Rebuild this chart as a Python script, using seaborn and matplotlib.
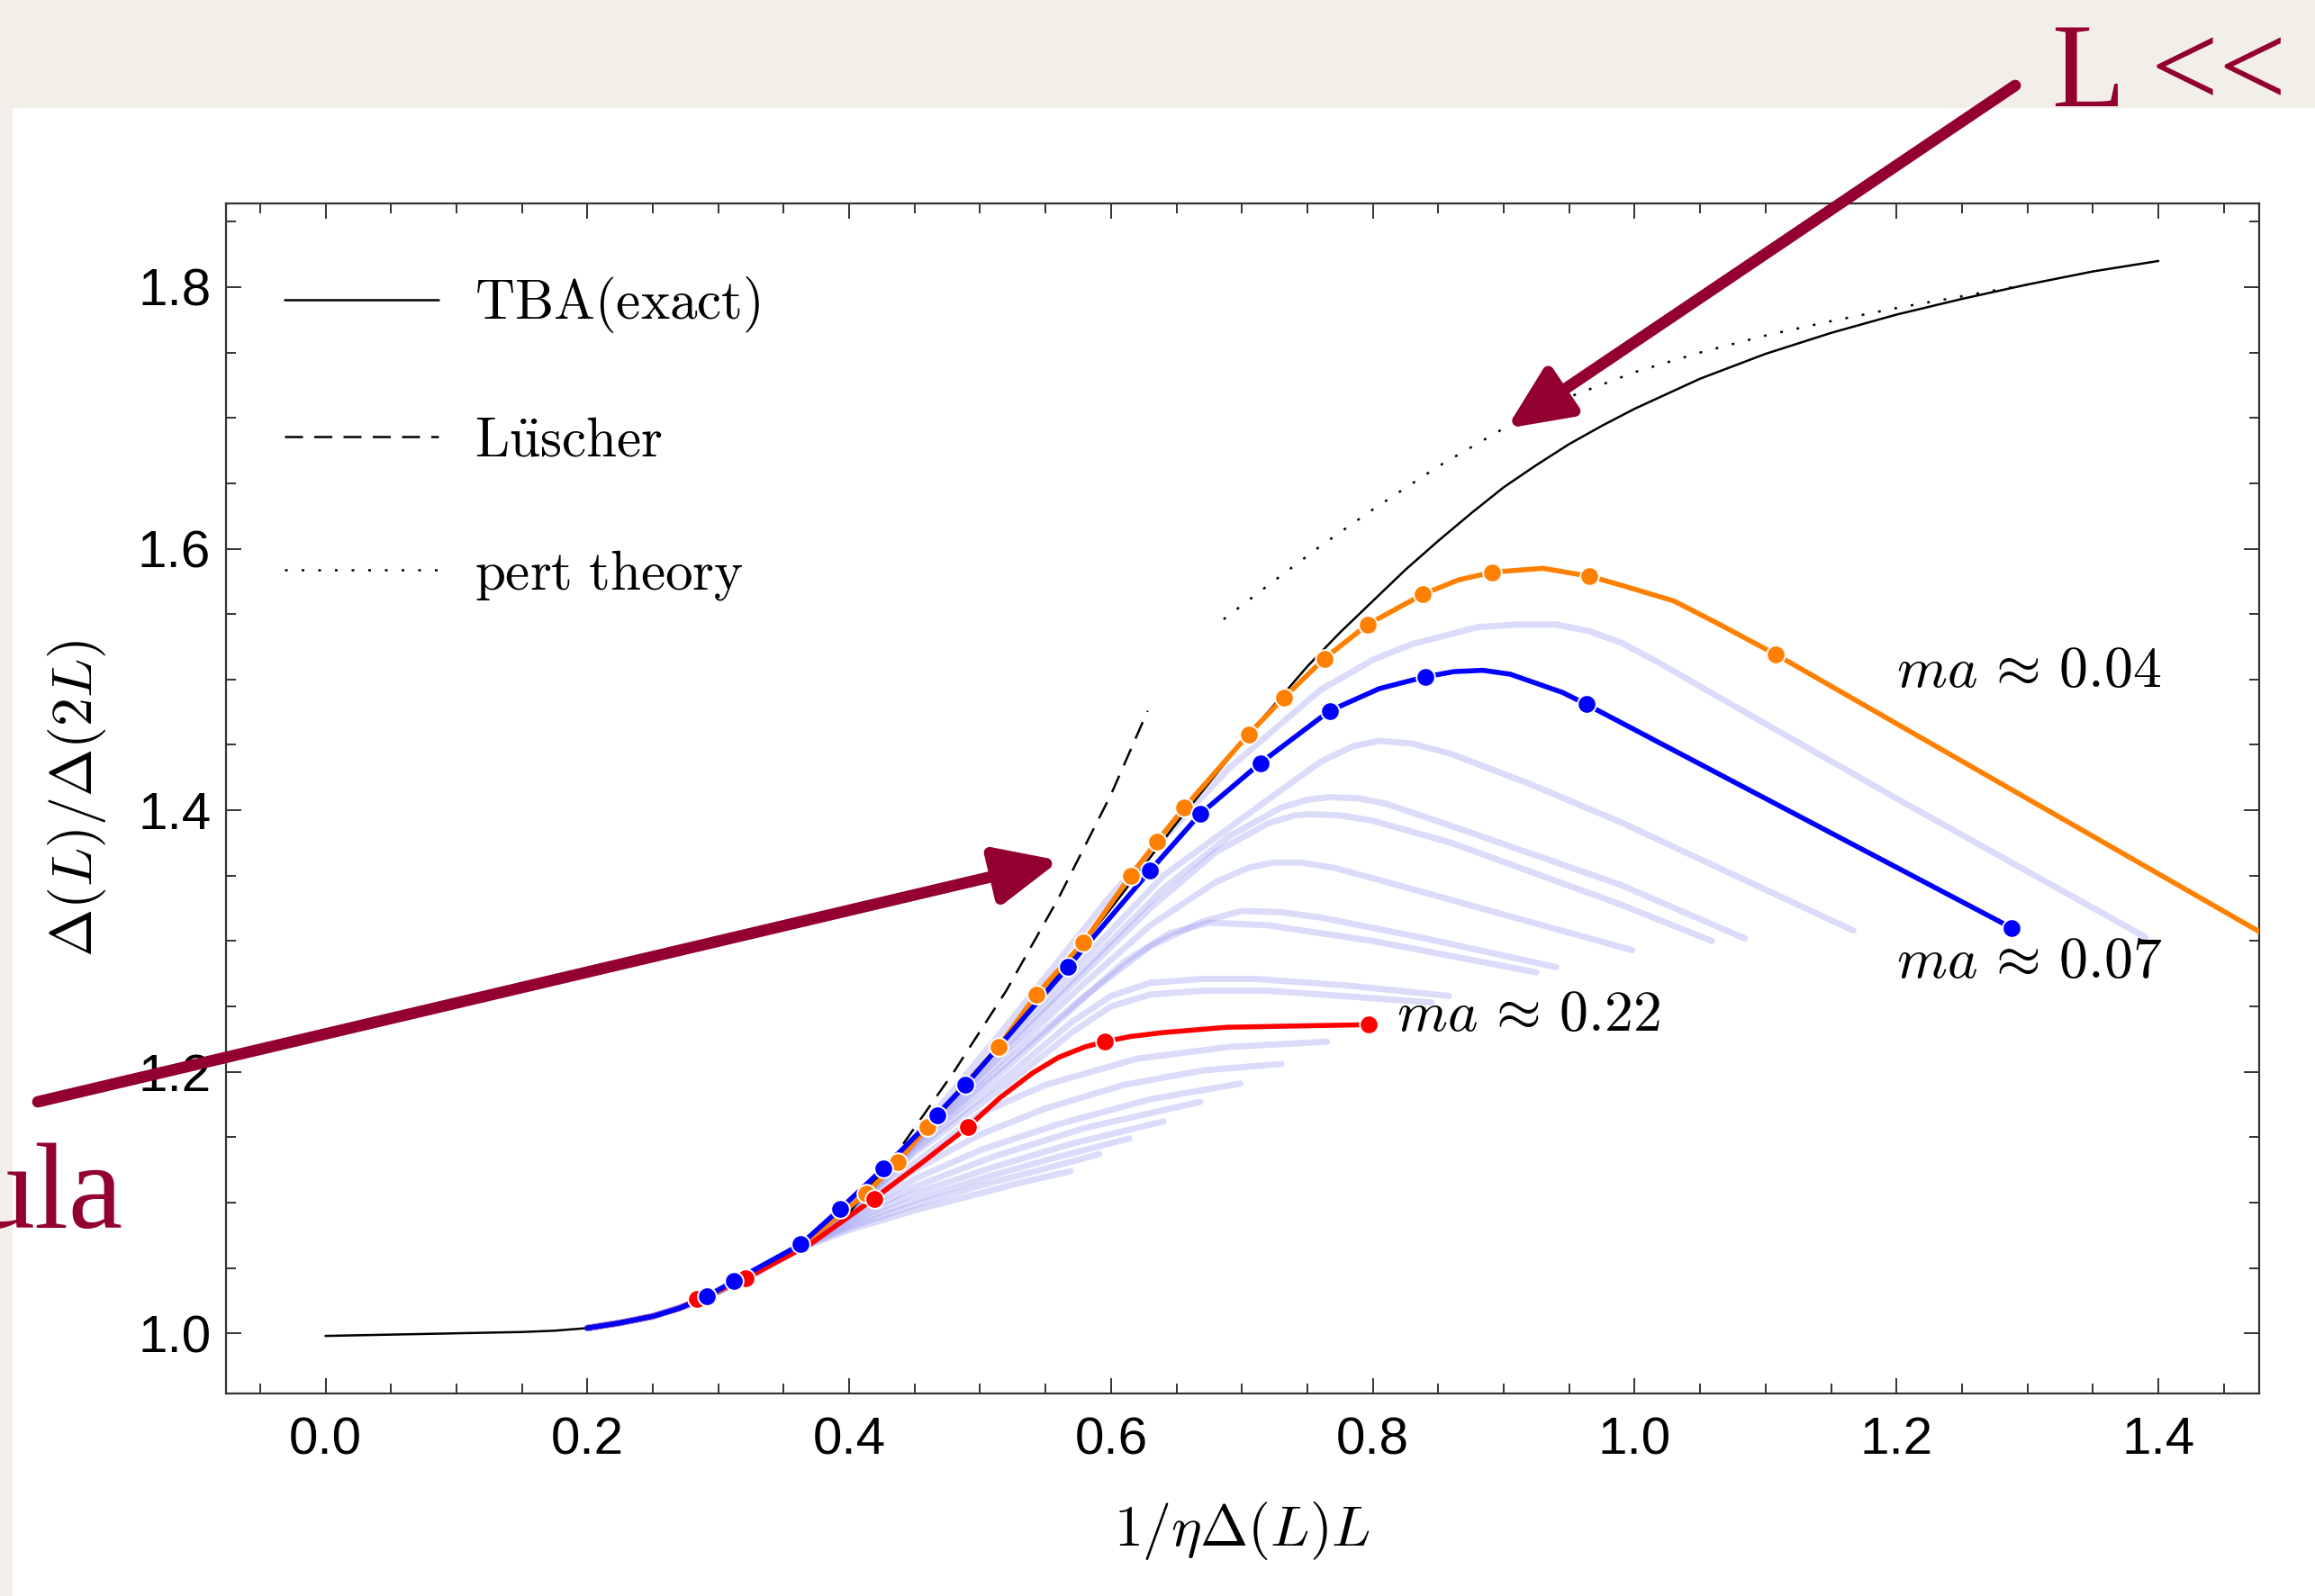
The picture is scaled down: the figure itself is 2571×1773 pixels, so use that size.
import numpy as np
import matplotlib
matplotlib.use("Agg")
import matplotlib.pyplot as plt
import seaborn as sns
from matplotlib.patches import Rectangle, FancyArrowPatch
from matplotlib.ticker import MultipleLocator

# ---------------- data ----------------
tba_x = [0.0, 0.05, 0.10, 0.15, 0.175, 0.20, 0.225, 0.25, 0.275, 0.30, 0.35, 0.40, 0.45, 0.50,
         0.55, 0.60, 0.65, 0.70, 0.75, 0.775, 0.80, 0.825, 0.85, 0.875, 0.90, 0.925, 0.95, 0.975,
         1.00, 1.05, 1.10, 1.15, 1.20, 1.25, 1.30, 1.35, 1.40]
tba_y = [0.998, 0.999, 1.000, 1.001, 1.002, 1.004, 1.008, 1.013, 1.021, 1.031, 1.058, 1.096, 1.146,
         1.203, 1.262, 1.325, 1.390, 1.452, 1.510, 1.536, 1.560, 1.584, 1.606, 1.627, 1.647,
         1.664, 1.680, 1.694, 1.707, 1.730, 1.749, 1.765, 1.779, 1.791, 1.802, 1.812, 1.820]

luscher_x = [0.40, 0.44, 0.48, 0.52, 0.56, 0.60, 0.628]
luscher_y = [1.092, 1.143, 1.200, 1.262, 1.333, 1.412, 1.476]

pert_x = [0.686, 0.72, 0.76, 0.80, 0.85, 0.90, 0.95, 1.00, 1.05, 1.10, 1.15, 1.20, 1.25, 1.30]
pert_y = [1.546, 1.572, 1.602, 1.630, 1.663, 1.692, 1.716, 1.735, 1.750, 1.763, 1.774, 1.784, 1.793, 1.802]

# ma ~ 0.04
orange_x = [0.20, 0.225, 0.25, 0.27, 0.30, 0.36, 0.413, 0.437, 0.460, 0.514, 0.543, 0.579, 0.615,
            0.635, 0.656, 0.705, 0.732, 0.763, 0.796, 0.838, 0.865, 0.891, 0.930, 0.965, 0.990,
            1.030, 1.065, 1.108, 1.500]
orange_y = [1.004, 1.008, 1.013, 1.019, 1.032, 1.064, 1.107, 1.131, 1.158, 1.219, 1.259, 1.299,
            1.350, 1.376, 1.402, 1.458, 1.486, 1.516, 1.542, 1.565, 1.576, 1.582, 1.585, 1.579,
            1.572, 1.560, 1.542, 1.519, 1.294]
orange_dot_x = [0.413, 0.437, 0.460, 0.514, 0.543, 0.579, 0.615, 0.635, 0.656, 0.705, 0.732, 0.763,
                0.796, 0.838, 0.891, 0.965, 1.108]
orange_dot_y = [1.107, 1.131, 1.158, 1.219, 1.259, 1.299, 1.350, 1.376, 1.402, 1.458, 1.486, 1.516,
                1.542, 1.565, 1.582, 1.579, 1.519]

# ma ~ 0.07
blue_x = [0.20, 0.225, 0.25, 0.27, 0.291, 0.312, 0.363, 0.393, 0.426, 0.467, 0.489, 0.567, 0.630,
          0.668, 0.714, 0.767, 0.805, 0.840, 0.862, 0.884, 0.905, 0.925, 0.945, 0.963, 1.288]
blue_y = [1.004, 1.008, 1.013, 1.019, 1.028, 1.040, 1.068, 1.095, 1.126, 1.167, 1.190, 1.280,
          1.354, 1.397, 1.436, 1.476, 1.493, 1.502, 1.506, 1.507, 1.504, 1.497, 1.490, 1.481, 1.310]
blue_dot_x = [0.291, 0.312, 0.363, 0.393, 0.426, 0.467, 0.489, 0.567, 0.630, 0.668, 0.714, 0.767,
              0.840, 0.963, 1.288]
blue_dot_y = [1.028, 1.040, 1.068, 1.095, 1.126, 1.167, 1.190, 1.280, 1.354, 1.397, 1.436, 1.476,
              1.502, 1.481, 1.310]

# ma ~ 0.22
red_x = [0.20, 0.225, 0.25, 0.27, 0.284, 0.321, 0.37, 0.419, 0.455, 0.491, 0.515, 0.540, 0.560,
         0.580, 0.595, 0.615, 0.64, 0.688, 0.74, 0.797]
red_y = [1.004, 1.008, 1.013, 1.019, 1.026, 1.042, 1.068, 1.103, 1.130, 1.158, 1.180, 1.199, 1.211,
         1.219, 1.223, 1.227, 1.230, 1.234, 1.235, 1.236]
red_dot_x = [0.284, 0.321, 0.419, 0.491, 0.595, 0.797]
red_dot_y = [1.026, 1.042, 1.103, 1.158, 1.223, 1.236]

# faint curves for the other lattice spacings (shared start, then their own branch)
faint_start_x = [0.20, 0.225, 0.25, 0.275, 0.30, 0.33, 0.36]
faint_start_y = [1.004, 1.008, 1.013, 1.021, 1.032, 1.047, 1.064]
faint_a_x = [0.40, 0.45, 0.52, 0.60, 0.69, 0.76, 0.80, 0.83, 0.88, 0.91, 0.94, 0.965, 0.99, 1.02,
             1.058, 1.20, 1.39]
faint_a_y = [1.095, 1.150, 1.235, 1.335, 1.432, 1.492, 1.515, 1.527, 1.540, 1.542, 1.542, 1.537,
             1.528, 1.512, 1.490, 1.409, 1.303]
faint_b_x = [0.40, 0.45, 0.52, 0.58, 0.64, 0.717, 0.76, 0.785, 0.805, 0.83, 0.86, 0.92, 0.989, 1.167]
faint_b_y = [1.094, 1.148, 1.225, 1.287, 1.350, 1.406, 1.437, 1.449, 1.453, 1.451, 1.443, 1.420,
             1.391, 1.308]
faint_c_x = [0.40, 0.45, 0.52, 0.58, 0.64, 0.69, 0.73, 0.75, 0.767, 0.79, 0.81, 0.86, 0.989, 1.084]
faint_c_y = [1.094, 1.147, 1.220, 1.280, 1.340, 1.380, 1.402, 1.408, 1.410, 1.409, 1.405, 1.388,
             1.343, 1.302]
faint_d_x = [0.40, 0.45, 0.52, 0.58, 0.63, 0.68, 0.72, 0.74, 0.752, 0.775, 0.80, 0.86, 0.989, 1.059]
faint_d_y = [1.094, 1.146, 1.217, 1.276, 1.325, 1.368, 1.390, 1.396, 1.397, 1.396, 1.392, 1.375,
             1.328, 1.300]
faint_e_x = [0.40, 0.45, 0.52, 0.58, 0.63, 0.68, 0.705, 0.724, 0.745, 0.77, 0.80, 0.998]
faint_e_y = [1.093, 1.145, 1.212, 1.268, 1.312, 1.345, 1.356, 1.360, 1.360, 1.356, 1.348, 1.293]
faint_f_x = [0.40, 0.45, 0.52, 0.58, 0.63, 0.67, 0.70, 0.73, 0.76, 0.84, 0.940]
faint_f_y = [1.093, 1.144, 1.207, 1.258, 1.296, 1.315, 1.323, 1.322, 1.318, 1.302, 1.280]
faint_g_x = [0.40, 0.45, 0.52, 0.57, 0.61, 0.645, 0.675, 0.72, 0.80, 0.925]
faint_g_y = [1.093, 1.143, 1.203, 1.248, 1.284, 1.306, 1.314, 1.312, 1.300, 1.276]
faint_h_x = [0.40, 0.45, 0.52, 0.57, 0.60, 0.63, 0.67, 0.71, 0.78, 0.858]
faint_h_y = [1.092, 1.140, 1.196, 1.238, 1.258, 1.268, 1.271, 1.271, 1.266, 1.258]
faint_i_x = [0.40, 0.45, 0.52, 0.57, 0.60, 0.63, 0.67, 0.72, 0.845]
faint_i_y = [1.092, 1.138, 1.190, 1.230, 1.250, 1.259, 1.262, 1.262, 1.253]
faint_j_x = [0.40, 0.45, 0.50, 0.55, 0.62, 0.69, 0.765]
faint_j_y = [1.093, 1.130, 1.168, 1.190, 1.210, 1.219, 1.223]
faint_k_x = [0.40, 0.45, 0.50, 0.55, 0.61, 0.67, 0.730]
faint_k_y = [1.091, 1.125, 1.152, 1.172, 1.190, 1.201, 1.206]
faint_l_x = [0.40, 0.45, 0.50, 0.56, 0.63, 0.699]
faint_l_y = [1.089, 1.118, 1.140, 1.160, 1.179, 1.191]
faint_m_x = [0.40, 0.45, 0.51, 0.58, 0.668]
faint_m_y = [1.087, 1.112, 1.135, 1.157, 1.177]
faint_n_x = [0.40, 0.45, 0.51, 0.57, 0.640]
faint_n_y = [1.085, 1.107, 1.127, 1.145, 1.162]
faint_o_x = [0.40, 0.45, 0.51, 0.56, 0.614]
faint_o_y = [1.083, 1.102, 1.121, 1.135, 1.149]
faint_p_x = [0.40, 0.45, 0.50, 0.55, 0.591]
faint_p_y = [1.081, 1.098, 1.113, 1.126, 1.137]
faint_q_x = [0.40, 0.45, 0.50, 0.53, 0.569]
faint_q_y = [1.079, 1.094, 1.107, 1.115, 1.124]

faint_curves = [(faint_a_x, faint_a_y), (faint_b_x, faint_b_y), (faint_c_x, faint_c_y),
                (faint_d_x, faint_d_y), (faint_e_x, faint_e_y), (faint_f_x, faint_f_y),
                (faint_g_x, faint_g_y), (faint_h_x, faint_h_y), (faint_i_x, faint_i_y),
                (faint_j_x, faint_j_y), (faint_k_x, faint_k_y), (faint_l_x, faint_l_y),
                (faint_m_x, faint_m_y), (faint_n_x, faint_n_y), (faint_o_x, faint_o_y),
                (faint_p_x, faint_p_y), (faint_q_x, faint_q_y)]

x_ticks = [0.0, 0.2, 0.4, 0.6, 0.8, 1.0, 1.2, 1.4]
y_ticks = [1.0, 1.2, 1.4, 1.6, 1.8]

# ---------------- style ----------------
sns.set_theme(style="ticks")
plt.rcParams['font.family'] = ['Liberation Sans', 'DejaVu Sans']
plt.rcParams['mathtext.fontset'] = 'cm'
plt.rcParams['text.color'] = 'black'
plt.rcParams['axes.labelcolor'] = 'black'

W, H, DPI = 2571, 1773, 200
MAROON = '#930030'
ORANGE = '#ff8000'
BLUE = '#0000ff'
RED = '#ff0000'
FAINT = (0.6, 0.6, 0.95)

fig = plt.figure(figsize=(W / DPI, H / DPI), dpi=DPI, facecolor='#f2efe9')
# white slide area
fig.add_artist(Rectangle((14 / W, 0), 1 - 14 / W, 1 - 120 / H, transform=fig.transFigure,
                         facecolor='white', edgecolor='none', zorder=-5))

ax = fig.add_axes([251 / W, (H - 1548) / H, (2509 - 251) / W, (1548 - 226) / H])
ax.set_facecolor('white')

# faint family of curves
for fx, fy in faint_curves:
    sns.lineplot(x=faint_start_x + fx, y=faint_start_y + fy, ax=ax, color=FAINT, alpha=0.35,
                 lw=2.5, sort=False, estimator=None, legend=False, zorder=1)

sns.lineplot(x=tba_x, y=tba_y, ax=ax, color='black', lw=0.9, sort=False, estimator=None,
             legend=False, zorder=3)
h_tba = ax.lines[-1]
sns.lineplot(x=luscher_x, y=luscher_y, ax=ax, color='black', lw=0.9, linestyle=(0, (8, 5)),
             sort=False, estimator=None, legend=False, zorder=3)
h_lus = ax.lines[-1]
sns.lineplot(x=pert_x, y=pert_y, ax=ax, color='black', lw=0.9, linestyle=(0, (1.2, 6.2)),
             sort=False, estimator=None, legend=False, zorder=3)
h_pert = ax.lines[-1]

for lx, ly, dx, dy, col in [(orange_x, orange_y, orange_dot_x, orange_dot_y, ORANGE),
                            (red_x, red_y, red_dot_x, red_dot_y, RED),
                            (blue_x, blue_y, blue_dot_x, blue_dot_y, BLUE)]:
    sns.lineplot(x=lx, y=ly, ax=ax, color=col, lw=2.0, sort=False, estimator=None,
                 legend=False, zorder=4)
    sns.scatterplot(x=dx, y=dy, ax=ax, color=col, s=55, edgecolor='white', linewidth=0.7,
                    legend=False, zorder=5)

ax.set_xlim(-0.076, 1.477)
ax.set_ylim(0.954, 1.864)
ax.set_xticks(x_ticks)
ax.set_xticklabels([f'{v:.1f}' for v in x_ticks])
ax.set_yticks(y_ticks)
ax.set_yticklabels([f'{v:.1f}' for v in y_ticks])
ax.xaxis.set_minor_locator(MultipleLocator(0.05))
ax.yaxis.set_minor_locator(MultipleLocator(0.05))
ax.tick_params(which='both', direction='in', top=True, right=True, width=0.7, color='#333333',
               labelcolor='black')
ax.tick_params(which='major', length=6.2, labelsize=21)
ax.tick_params(which='minor', length=3.8)
ax.tick_params(axis='x', which='major', pad=9)
ax.tick_params(axis='y', which='major', pad=6)
for sp in ax.spines.values():
    sp.set_visible(True)
    sp.set_linewidth(0.8)
    sp.set_color('#333333')

ax.set_xlabel(r'$1/\eta\Delta(L)L$', fontsize=23, labelpad=14)
ax.set_ylabel(r'$\Delta(L)/\Delta(2L)$', fontsize=23, labelpad=12)

ax.text(1.200, 1.506, r'$ma \,\approx\, 0.04$', fontsize=23, ha='left', va='center', zorder=6)
ax.text(1.200, 1.284, r'$ma \,\approx\, 0.07$', fontsize=23, ha='left', va='center', zorder=6)
ax.text(0.818, 1.243, r'$ma \,\approx\, 0.22$', fontsize=23, ha='left', va='center', zorder=6)

ax.legend([h_tba, h_lus, h_pert],
          [r'$\mathrm{TBA(exact)}$', r'$\mathrm{L\ddot{u}scher}$', r'$\mathrm{pert\ theory}$'],
          loc='upper left', bbox_to_anchor=(0.0288, 0.94), frameon=False, fontsize=22,
          handlelength=2.8, handletextpad=0.65, labelspacing=1.47, borderpad=0, borderaxespad=0)


# ---------------- slide overlays ----------------
def fpos(x, y):
    return (x / W, 1 - y / H)


for tail, tip in [((2238, 95), (1673, 476)), ((42, 1224), (1177, 956))]:
    fig.add_artist(FancyArrowPatch(fpos(*tail), fpos(*tip), transform=fig.transFigure,
                                   arrowstyle='-|>,head_length=2.1,head_width=0.95',
                                   mutation_scale=10, lw=4.6, color=MAROON,
                                   shrinkA=0, shrinkB=0, zorder=10))

fig.text(*fpos(2279, 118), 'L <<', fontsize=48, family='Liberation Serif', color=MAROON,
         ha='left', va='baseline')
fig.text(*fpos(136, 1364), 'ula', fontsize=49, family='Liberation Serif', color=MAROON,
         ha='right', va='baseline')

fig.savefig('out.png', dpi=DPI, facecolor=fig.get_facecolor())
